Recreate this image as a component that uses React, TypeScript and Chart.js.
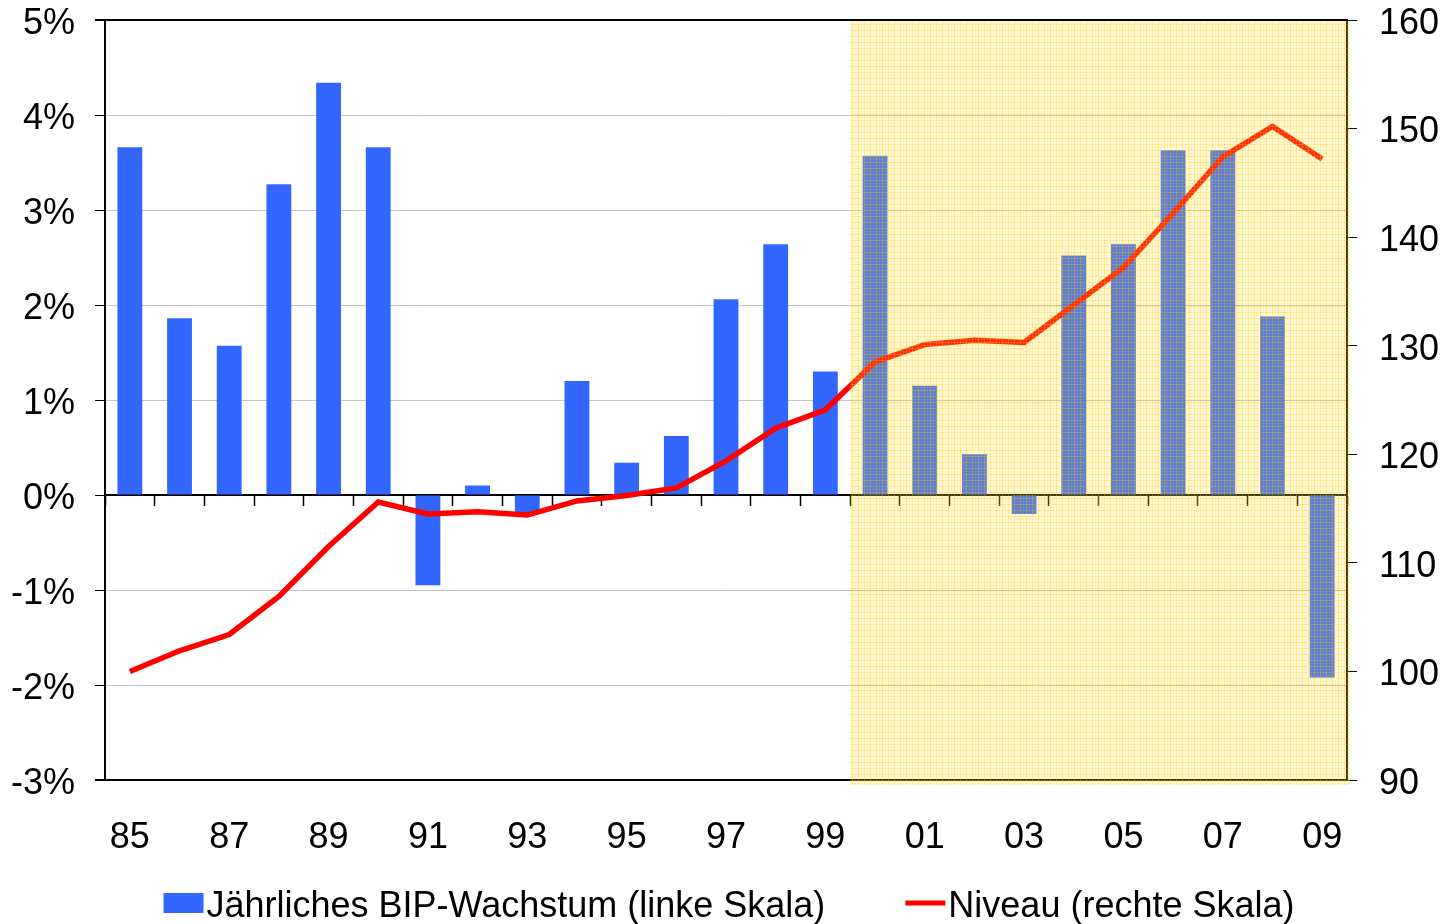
import React, { useEffect, useRef } from "react";
import { Chart, registerables } from "chart.js";

Chart.register(...registerables);

const years = ["85","86","87","88","89","90","91","92","93","94","95","96","97","98","99","00","01","02","03","04","05","06","07","08","09"];
const xTickLabels = ["85","","87","","89","","91","","93","","95","","97","","99","","01","","03","","05","","07","","09"];
const growth = [3.66,1.86,1.57,3.27,4.34,3.66,-0.95,0.1,-0.19,1.2,0.34,0.62,2.06,2.64,1.3,3.57,1.15,0.43,-0.2,2.52,2.64,3.63,3.63,1.88,-1.92];
const level = [100,101.9,103.4,106.9,111.5,115.6,114.5,114.7,114.4,115.7,116.2,116.9,119.4,122.4,124.1,128.5,130.1,130.5,130.3,133.75,137.2,142.2,147.4,150.2,147.2];
const shadeStartIndex = 15;
const growthLabel = "Jährliches BIP-Wachstum (linke Skala)";
const levelLabel = "Niveau (rechte Skala)";

const FONT = "'Liberation Sans', Arial, Helvetica, sans-serif";
const FS = 36;

function makePattern(ctx: CanvasRenderingContext2D) {
  const c = document.createElement("canvas");
  c.width = 6;
  c.height = 6;
  const p = c.getContext("2d")!;
  p.fillStyle = "rgba(255,218,50,0.2)";
  p.fillRect(0, 0, 6, 6);
  p.fillStyle = "rgba(255,200,0,0.3)";
  p.fillRect(0, 0, 1, 6);
  p.fillRect(0, 0, 6, 1);
  p.fillStyle = "rgba(255,205,30,0.12)";
  p.fillRect(3, 0, 1, 6);
  p.fillRect(0, 3, 6, 1);
  return ctx.createPattern(c, "repeat");
}

const shadePlugin = {
  id: "shade",
  afterDatasetsDraw(chart: any) {
    const { ctx, chartArea } = chart;
    const xs = chart.scales.x;
    const left = (xs.getPixelForValue(shadeStartIndex - 1) + xs.getPixelForValue(shadeStartIndex)) / 2;
    const right = chartArea.right + 3;
    const top = chartArea.top + 1;
    const bottom = chartArea.bottom + 5;
    ctx.save();
    const pat = makePattern(ctx);
    if (pat) ctx.fillStyle = pat;
    ctx.fillRect(left, top, right - left, bottom - top);
    ctx.restore();
  },
};

const legendPlugin = {
  id: "customLegend",
  afterDraw(chart: any) {
    const { ctx } = chart;
    const ds = chart.data.datasets;
    ctx.save();
    ctx.font = FS + "px " + FONT;
    ctx.textBaseline = "middle";
    ctx.fillStyle = "#000";
    const box = 40;
    const gap = 3;
    const spacing = 80;
    const w1 = ctx.measureText(ds[0].label).width;
    const w2 = ctx.measureText(ds[1].label).width;
    const total = box + gap + w1 + spacing + box + gap + w2;
    let x = 729 - total / 2;
    const cy = 904;
    ctx.fillStyle = ds[0].backgroundColor;
    ctx.fillRect(x, cy - 11, box, 20);
    ctx.fillStyle = "#000";
    ctx.fillText(ds[0].label, x + box + gap, cy + 3);
    x += box + gap + w1 + spacing;
    ctx.strokeStyle = ds[1].borderColor;
    ctx.lineWidth = 5;
    ctx.beginPath();
    ctx.moveTo(x, cy - 1);
    ctx.lineTo(x + box, cy - 1);
    ctx.stroke();
    ctx.fillStyle = "#000";
    ctx.fillText(ds[1].label, x + box + gap, cy + 3);
    ctx.restore();
  },
};

const noVerticalPadding = (s: any) => {
  s.paddingTop = 0;
  s.paddingBottom = 0;
};

// two-line labels with an empty first line shift the text a few pixels down
const shifted = (text: string) => ["", text];

export default function App() {
  const ref = useRef<HTMLCanvasElement | null>(null);
  useEffect(() => {
    if (!ref.current) return;
    Chart.defaults.font.family = FONT;
    const chart = new Chart(ref.current, {
      type: "bar",
      data: {
        labels: years,
        datasets: [
          {
            type: "bar",
            label: growthLabel,
            data: growth,
            backgroundColor: "#3366FF",
            borderWidth: 0,
            barPercentage: 0.5,
            categoryPercentage: 1,
            xAxisID: "x",
            yAxisID: "y",
            order: 1,
          },
          {
            type: "line",
            label: levelLabel,
            data: level,
            borderColor: "#FF0000",
            backgroundColor: "#FF0000",
            borderWidth: 5.5,
            pointRadius: 0,
            tension: 0,
            fill: false,
            xAxisID: "x",
            yAxisID: "y2",
            order: 0,
          } as any,
        ],
      },
      options: {
        responsive: false,
        animation: false,
        layout: { padding: { top: 20, left: 0, right: 0, bottom: 0 } },
        plugins: { legend: { display: false }, tooltip: { enabled: false } },
        scales: {
          x: {
            type: "category",
            position: "bottom",
            offset: true,
            grid: { display: false, drawTicks: false },
            border: { display: true, color: "#000", width: 2 },
            ticks: {
              autoSkip: false,
              maxRotation: 0,
              padding: 38,
              color: "#000",
              font: { size: FS, lineHeight: 1.1 },
              callback: (_v: any, i: number) => xTickLabels[i],
            },
            afterFit: (s: any) => { s.height = 144; s.paddingLeft = 0; s.paddingRight = 0; },
          },
          x0: {
            type: "category",
            labels: years,
            position: { y: 0 } as any,
            offset: true,
            grid: { offset: true, drawOnChartArea: false, drawTicks: true, tickLength: 10, tickColor: "#000", tickWidth: 1.5 },
            border: { display: true, color: "#000", width: 2 },
            ticks: { display: false },
            afterFit: (s: any) => { s.height = 0; s.paddingLeft = 0; s.paddingRight = 0; },
          },
          y: {
            type: "linear",
            position: "left",
            min: -3,
            max: 5,
            ticks: {
              stepSize: 1,
              padding: 20,
              color: "#000",
              font: { size: FS, lineHeight: "8px" },
              callback: (v: any) => shifted(v + "%"),
            },
            grid: {
              color: (c: any) => (c.tick && (c.tick.value === 5 || c.tick.value === -3) ? "#000" : "#c4c4c4"),
              lineWidth: (c: any) => (c.tick && (c.tick.value === 5 || c.tick.value === -3) ? 2 : 1),
              tickColor: "#000",
              tickLength: 10,
            },
            border: { display: true, color: "#000", width: 2 },
            afterFit: (s: any) => { s.width = 105; noVerticalPadding(s); },
          },
          y2: {
            type: "linear",
            position: "right",
            min: 90,
            max: 160,
            ticks: {
              stepSize: 10,
              padding: 22,
              color: "#000",
              font: { size: FS, lineHeight: "8px" },
              callback: (v: any) => shifted(String(v)),
            },
            grid: { drawOnChartArea: false, tickColor: "#000", tickLength: 10 },
            border: { display: true, color: "#000", width: 2 },
            afterFit: (s: any) => { s.width = 97; noVerticalPadding(s); },
          },
        },
      } as any,
      plugins: [shadePlugin, legendPlugin],
    });
    return () => chart.destroy();
  }, []);
  return (
    <div style={{ position: "absolute", left: 0, top: 0, width: 1444, height: 924, background: "#fff" }}>
      <canvas ref={ref} width={1444} height={924} style={{ display: "block" }} />
    </div>
  );
}
